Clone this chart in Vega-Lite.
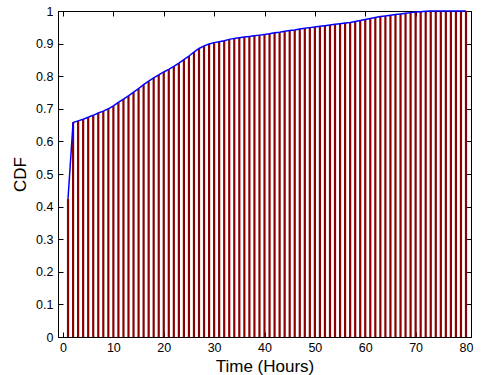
{
  "$schema": "https://vega.github.io/schema/vega-lite/v6.json",
  "width": 413,
  "height": 326,
  "autosize": "none",
  "padding": {"left": 58, "top": 11, "right": 10, "bottom": 38},
  "background": "white",
  "config": {
    "view": {"stroke": "#000", "strokeWidth": 1},
    "font": "Liberation Sans",
    "axis": {
      "grid": false,
      "domainColor": "#000",
      "domainWidth": 1,
      "tickColor": "#000",
      "tickWidth": 1,
      "tickSize": -5,
      "labelFont": "Liberation Sans",
      "labelFontSize": 12.5,
      "labelColor": "#000",
      "titleFont": "Liberation Sans",
      "titleFontSize": 17,
      "titleFontWeight": "normal",
      "titleColor": "#000"
    }
  },
  "data": {
    "values": [
      {"t": 1, "cdf": 0.425}, {"t": 2, "cdf": 0.658}, {"t": 3, "cdf": 0.663}, {"t": 4, "cdf": 0.668},
      {"t": 5, "cdf": 0.674}, {"t": 6, "cdf": 0.680}, {"t": 7, "cdf": 0.687}, {"t": 8, "cdf": 0.693},
      {"t": 9, "cdf": 0.700}, {"t": 10, "cdf": 0.709}, {"t": 11, "cdf": 0.720}, {"t": 12, "cdf": 0.730},
      {"t": 13, "cdf": 0.740}, {"t": 14, "cdf": 0.751}, {"t": 15, "cdf": 0.762}, {"t": 16, "cdf": 0.774},
      {"t": 17, "cdf": 0.785}, {"t": 18, "cdf": 0.795}, {"t": 19, "cdf": 0.804}, {"t": 20, "cdf": 0.813},
      {"t": 21, "cdf": 0.821}, {"t": 22, "cdf": 0.830}, {"t": 23, "cdf": 0.840}, {"t": 24, "cdf": 0.851},
      {"t": 25, "cdf": 0.862}, {"t": 26, "cdf": 0.874}, {"t": 27, "cdf": 0.885}, {"t": 28, "cdf": 0.893},
      {"t": 29, "cdf": 0.899}, {"t": 30, "cdf": 0.903}, {"t": 31, "cdf": 0.906}, {"t": 32, "cdf": 0.909},
      {"t": 33, "cdf": 0.913}, {"t": 34, "cdf": 0.916}, {"t": 35, "cdf": 0.918}, {"t": 36, "cdf": 0.920},
      {"t": 37, "cdf": 0.922}, {"t": 38, "cdf": 0.924}, {"t": 39, "cdf": 0.926}, {"t": 40, "cdf": 0.928},
      {"t": 41, "cdf": 0.930}, {"t": 42, "cdf": 0.933}, {"t": 43, "cdf": 0.935}, {"t": 44, "cdf": 0.938},
      {"t": 45, "cdf": 0.940}, {"t": 46, "cdf": 0.942}, {"t": 47, "cdf": 0.945}, {"t": 48, "cdf": 0.947},
      {"t": 49, "cdf": 0.949}, {"t": 50, "cdf": 0.951}, {"t": 51, "cdf": 0.953}, {"t": 52, "cdf": 0.955},
      {"t": 53, "cdf": 0.957}, {"t": 54, "cdf": 0.959}, {"t": 55, "cdf": 0.961}, {"t": 56, "cdf": 0.963},
      {"t": 57, "cdf": 0.965}, {"t": 58, "cdf": 0.968}, {"t": 59, "cdf": 0.971}, {"t": 60, "cdf": 0.974},
      {"t": 61, "cdf": 0.977}, {"t": 62, "cdf": 0.980}, {"t": 63, "cdf": 0.983}, {"t": 64, "cdf": 0.985},
      {"t": 65, "cdf": 0.987}, {"t": 66, "cdf": 0.989}, {"t": 67, "cdf": 0.991}, {"t": 68, "cdf": 0.993},
      {"t": 69, "cdf": 0.995}, {"t": 70, "cdf": 0.997}, {"t": 71, "cdf": 0.998}, {"t": 72, "cdf": 0.999},
      {"t": 73, "cdf": 1.0}, {"t": 74, "cdf": 1.0}, {"t": 75, "cdf": 1.0}, {"t": 76, "cdf": 1.0},
      {"t": 77, "cdf": 1.0}, {"t": 78, "cdf": 1.0}, {"t": 79, "cdf": 1.0}, {"t": 80, "cdf": 1.0}
    ]
  },
  "layer": [
    {
      "mark": {"type": "bar", "color": "#8b0000", "size": 2.2, "clip": false},
      "encoding": {
        "x": {
          "field": "t", "type": "quantitative",
          "scale": {"domain": [0, 80], "nice": false, "zero": false},
          "axis": {"values": [0, 10, 20, 30, 40, 50, 60, 70, 80], "title": "Time (Hours)", "labelPadding": 9, "labelFlush": false, "titleY": 34, "titleBaseline": "alphabetic"}
        },
        "y": {
          "field": "cdf", "type": "quantitative",
          "scale": {"domain": [0, 1], "nice": false},
          "axis": {"values": [0, 0.1, 0.2, 0.3, 0.4, 0.5, 0.6, 0.7, 0.8, 0.9, 1], "format": "~g", "title": "CDF", "labelPadding": 10, "labelFlush": false, "titleX": -33, "titleY": 163, "titleBaseline": "alphabetic", "titleAngle": -90, "titleAlign": "center"}
        }
      }
    },
    {
      "mark": {"type": "line", "color": "#0000ff", "strokeWidth": 1.5},
      "encoding": {
        "x": {
          "field": "t", "type": "quantitative",
          "axis": {"orient": "top", "values": [0, 10, 20, 30, 40, 50, 60, 70, 80], "labels": false, "title": null}
        },
        "y": {
          "field": "cdf", "type": "quantitative",
          "axis": {"orient": "right", "values": [0, 0.1, 0.2, 0.3, 0.4, 0.5, 0.6, 0.7, 0.8, 0.9, 1], "labels": false, "title": null}
        }
      }
    }
  ],
  "resolve": {"axis": {"x": "independent", "y": "independent"}}
}
